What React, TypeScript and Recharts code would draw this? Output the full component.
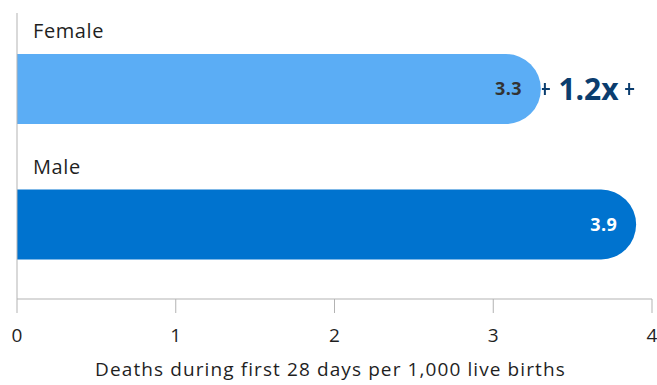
import React from 'react';
import { BarChart, Bar, XAxis, YAxis, LabelList, Label } from 'recharts';

const categories = ['Female', 'Male'];
const rates = [3.3, 3.9];
const ratioLabel = '1.2x';
const xTicks = [0, 1, 2, 3, 4];
const axisTitle = 'Deaths during first 28 days per 1,000 live births';

const barColors = ['#5badf5', '#0073cf'];
const valueColors = ['#333333', '#ffffff'];

const data = categories.map((name, i) => ({ name, rate: rates[i] }));

const FONT = '"Open Sans", sans-serif';

// category name sits above its bar
const NameLabel = (props: any) => {
  const { x, y } = props;
  return (
    <text
      x={x + 16}
      y={y - 16}
      fill="#1f1f1f"
      fontSize={20}
      letterSpacing={0.6}
      fontFamily={FONT}
    >
      {props.value}
    </text>
  );
};

const ValueLabel = (props: any) => {
  const { x, y, width, height, index } = props;
  return (
    <text
      x={x + width - 19}
      y={y + height / 2}
      dy="0.36em"
      textAnchor="end"
      fill={valueColors[index]}
      fontSize={18}
      fontWeight={700}
      letterSpacing={0.4}
      fontFamily={FONT}
    >
      {props.value}
    </text>
  );
};

// bracket between the female and male bar ends, drawn on the female row
const RatioLabel = (props: any) => {
  const { x, y, width, height, index, value } = props;
  if (index !== 0) return null;
  const pxPerUnit = width / value;
  const x1 = x + width;
  const x2 = x + rates[1] * pxPerUnit;
  const cy = y + height / 2;
  const mid = (x1 + x2) / 2;
  const stroke = '#0b3d6e';
  return (
    <g>
      <line x1={x1 + 1} y1={cy} x2={x1 + 9} y2={cy} stroke={stroke} strokeWidth={2} />
      <line x1={x1 + 4} y1={cy - 6} x2={x1 + 4} y2={cy + 6} stroke={stroke} strokeWidth={2} />
      <line x1={x2 - 11} y1={cy} x2={x2 - 2} y2={cy} stroke={stroke} strokeWidth={2} />
      <line x1={x2 - 7} y1={cy - 6} x2={x2 - 7} y2={cy + 6} stroke={stroke} strokeWidth={2} />
      <text
        x={mid}
        y={cy}
        dy="0.36em"
        textAnchor="middle"
        fill={stroke}
        fontSize={30}
        fontWeight={700}
        fontFamily={FONT}
      >
        {ratioLabel}
      </text>
    </g>
  );
};

export default function App() {
  return (
    <div style={{ position: 'absolute', left: 0, top: 0, background: '#fff' }}>
      <BarChart
        width={657}
        height={385}
        data={data}
        layout="vertical"
        margin={{ top: 13, right: 5, bottom: 0, left: 0 }}
        barCategoryGap={0}
      >
        <XAxis
          type="number"
          dataKey="rate"
          domain={[0, 4]}
          ticks={xTicks}
          height={86}
          tickSize={14}
          tickMargin={16}
          stroke="#b3b3b3"
          tick={{ fill: '#1f1f1f', fontSize: 19, fontFamily: FONT }}
        >
          <Label
            value={axisTitle}
            position="insideBottom"
            offset={9}
            dx={-4}
            fill="#1f1f1f"
            fontSize={19}
            letterSpacing={1.1}
            fontFamily={FONT}
          />
        </XAxis>
        <YAxis
          type="category"
          dataKey="name"
          width={17}
          tick={false}
          tickLine={false}
          stroke="#b3b3b3"
          padding={{ top: 8, bottom: 7 }}
        />
        <Bar
          dataKey="rate"
          barSize={70}
          radius={[0, 35, 35, 0]}
          isAnimationActive={false}
          shape={(p: any) => {
            const { x, y, width, height, index } = p;
            const r = Math.min(35, height / 2, width);
            return (
              <path
                d={`M${x},${y} H${x + width - r} A${r},${r} 0 0 1 ${x + width},${y + r} V${y + height - r} A${r},${r} 0 0 1 ${x + width - r},${y + height} H${x} Z`}
                fill={barColors[index]}
              />
            );
          }}
        >
          <LabelList dataKey="name" content={NameLabel} />
          <LabelList dataKey="rate" content={ValueLabel} />
          <LabelList dataKey="rate" content={RatioLabel} />
        </Bar>
      </BarChart>
    </div>
  );
}
